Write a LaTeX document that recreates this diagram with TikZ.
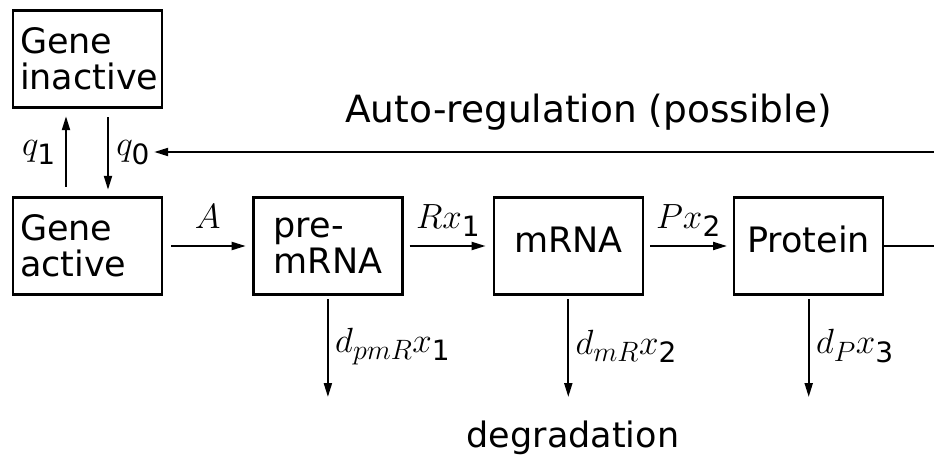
\RequirePackage{fix-cm}
\documentclass[tikz,border=0pt]{standalone}
\usepackage{amsmath}
\usepackage{fontspec}
\setmainfont{DejaVu Sans}
\usetikzlibrary{positioning,arrows.meta}
\newcommand{\diagfont}{\fontsize{35}{36}\selectfont}
\newcommand{\titlefont}{\fontsize{37.5}{40}\selectfont}
\DeclareMathSizes{35}{35}{28}{21}

\begin{document}
\begin{tikzpicture}[x=1pt, y=1pt, font=\diagfont, line width=2pt,
  box/.style={draw, line width=2.4pt, minimum width=149pt, minimum height=97pt,
              align=left, inner sep=7pt},
  genebox/.style={box, text width=135pt},
  onebox/.style={box, text height=25.5pt, text depth=12pt},
  flow/.style={-{Triangle[length=14pt,width=8pt]}},
  rate/.style={anchor=base, yshift=18pt, inner sep=0pt},
  node distance=89pt]
\useasboundingbox (0,0) rectangle (934,456);
\node[genebox] (active) at (87.5,210) {Gene\\active};
\node[genebox] (inactive) at (87.5,397) {Gene\\inactive};
\node[box, right=of active] (premrna) {pre-\\mRNA};
\node[onebox, right=of premrna] (mrna) {mRNA};
\node[onebox, right=of mrna] (protein) {Protein};
\coordinate (fbin) at (934,304);
\coordinate (fbout) at (934,210);
\coordinate (bottom) at (0,59);
\draw[flow, shorten <=8pt, shorten >=6.5pt] (active) -- node[rate] {$A$} (premrna);
\draw[flow, shorten <=6pt, shorten >=7pt] (premrna) -- node[rate] {$Rx_{\text{1}}$} (mrna);
\draw[flow, shorten <=6pt, shorten >=6pt] (mrna) -- node[rate] {$Px_{\text{2}}$} (protein);
\draw[flow, shorten <=9.5pt, shorten >=7.5pt] ([xshift=-21.5pt]active.north)
  -- node[left=6pt] {$q_{\text{1}}$} ([xshift=-21.5pt]inactive.south);
\draw[flow, shorten <=8.5pt, shorten >=6.5pt] ([xshift=20.5pt]inactive.south)
  -- node[right=4pt] (qzero) {$q_{\text{0}}$} ([xshift=20.5pt]active.north);
\draw[flow] (fbin) -- (fbin -| qzero.east);
\draw (protein.east) -- (fbout);
\node[anchor=base, font=\titlefont] (autoreg) at (588.5,333) {Auto-regulation (possible)};
\draw[flow, shorten <=3.5pt] (premrna.south) -- node[right=3pt] {$d_{pmR}x_{\text{1}}$} (premrna.south |- bottom);
\draw[flow, shorten <=3.5pt] (mrna.south) -- node[right=3pt] {$d_{mR}x_{\text{2}}$} (mrna.south |- bottom);
\draw[flow, shorten <=3.5pt] (protein.south) -- node[right=3pt] {$d_Px_{\text{3}}$} (protein.south |- bottom);
\node[anchor=base] (degrade) at (573,9) {degradation};
\end{tikzpicture}
\end{document}
